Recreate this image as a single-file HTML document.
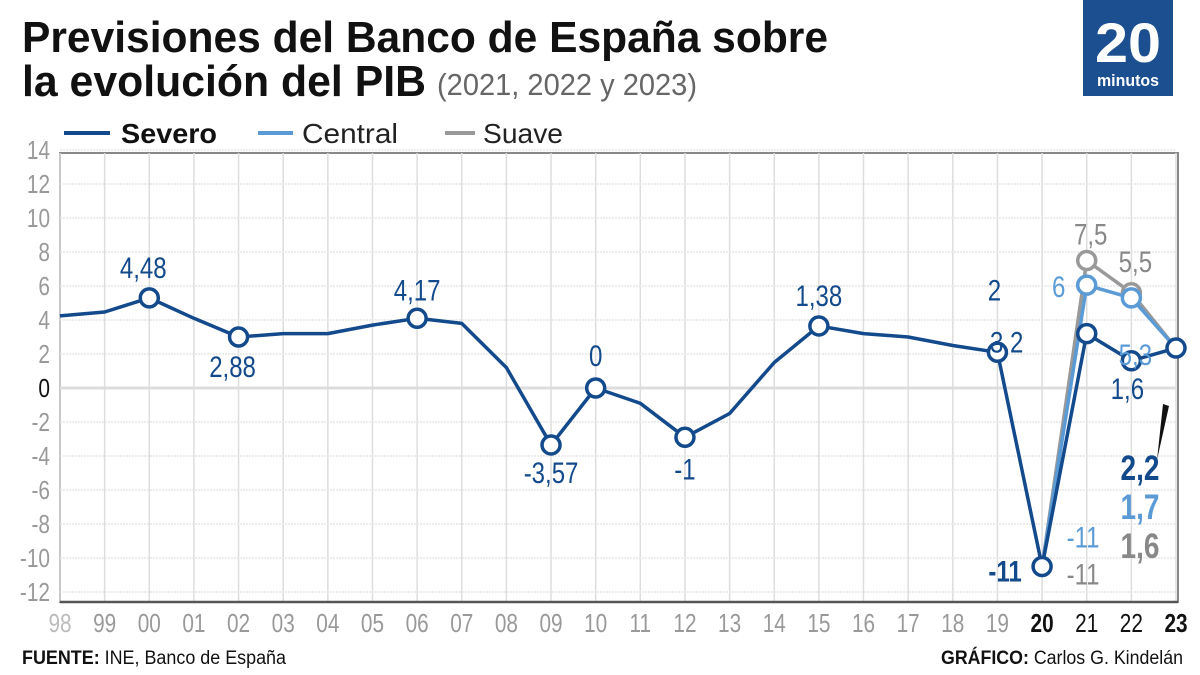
<!DOCTYPE html>
<html><head><meta charset="utf-8"><style>
body{margin:0;background:#fff;}
svg{display:block;font-family:"Liberation Sans Narrow","Liberation Sans",sans-serif;}
</style></head><body>
<svg id="c" width="1200" height="675" viewBox="0 0 1200 675">
<text x="22" y="52" font-size="44" font-weight="bold" fill="#111" textLength="806" lengthAdjust="spacingAndGlyphs">Previsiones del Banco de España sobre</text>
<text x="22" y="96" font-size="44" font-weight="bold" fill="#111" textLength="404" lengthAdjust="spacingAndGlyphs">la evolución del PIB</text>
<text x="437" y="95" font-size="31" fill="#666" textLength="260" lengthAdjust="spacingAndGlyphs">(2021, 2022 y 2023)</text>
<g>
<rect x="1083" y="0" width="90" height="96" fill="#1c4f8f"/>
<text x="1128" y="62" font-size="56" font-weight="bold" fill="#fff" text-anchor="middle" textLength="66" lengthAdjust="spacingAndGlyphs">20</text>
<text x="1128" y="86" font-size="17" font-weight="bold" fill="#fff" text-anchor="middle" textLength="62" lengthAdjust="spacingAndGlyphs">minutos</text>
</g>
<g>
<g><line x1="64" y1="133" x2="110" y2="133" stroke="#134a8c" stroke-width="4"/><text x="121" y="143" font-size="28" font-weight="bold" fill="#111" textLength="96" lengthAdjust="spacingAndGlyphs">Severo</text></g>
<g><line x1="258" y1="133" x2="293" y2="133" stroke="#5b9bd5" stroke-width="4"/><text x="302" y="143" font-size="28" fill="#222" textLength="96" lengthAdjust="spacingAndGlyphs">Central</text></g>
<g><line x1="445" y1="133" x2="475" y2="133" stroke="#999" stroke-width="4"/><text x="483" y="143" font-size="28" fill="#222" textLength="80" lengthAdjust="spacingAndGlyphs">Suave</text></g>
</g>
<g id="grid"></g><g id="axes"></g><g id="series"></g><g id="labels"></g>
<text x="22" y="664" font-size="19" fill="#111" textLength="264" lengthAdjust="spacingAndGlyphs"><tspan font-weight="bold">FUENTE:</tspan> INE, Banco de España</text>
<text x="1183" y="664" font-size="19" fill="#111" text-anchor="end" textLength="242" lengthAdjust="spacingAndGlyphs"><tspan font-weight="bold">GRÁFICO:</tspan> Carlos G. Kindelán</text>
</svg>
<script>
const years=["98","99","00","01","02","03","04","05","06","07","08","09","10","11","12","13","14","15","16","17","18","19","20","21","22","23"];
const severo=[4.24,4.47,5.3,4.1,3.0,3.2,3.2,3.7,4.1,3.8,1.2,-3.35,0,-0.9,-2.9,-1.5,1.5,3.65,3.2,3.0,2.5,2.1,-10.5,3.2,1.6,2.35];
const centralYears=["20","21","22","23"];
const central=[-10.5,6.05,5.3,2.35];
const suave=[-10.5,7.5,5.6,2.35];
const yTicks=[14,12,10,8,6,4,2,0,-2,-4,-6,-8,-10,-12];
const severoMarkers=["00","02","06","09","10","12","15","19","20","21","22","23"];
const severoLabels=["4,48","2,88","4,17","-3,57","0","-1","1,38","2","-11","3,2","1,6",""];
const centralLabels=["-11","6","5,3",""];
const suaveLabels=["-11","7,5","5,5",""];
const NS="http://www.w3.org/2000/svg";
const X0=60,X1=1176,Y0=388,PX=17,TOP=153,BOT=602;
const x=c=>X0+years.indexOf(c)*(X1-X0)/(years.length-1);
const y=v=>Y0-v*PX;
function mk(p,t,a){const e=document.createElementNS(NS,t);for(const k in a)e.setAttribute(k,a[k]);p.appendChild(e);return e;}
function narrow(t){const w=t.getComputedTextLength();if(w>0){t.setAttribute('textLength',(w*0.8).toFixed(1));t.setAttribute('lengthAdjust','spacingAndGlyphs');}}
const grid=document.getElementById('grid'),axes=document.getElementById('axes'),ser=document.getElementById('series'),lab=document.getElementById('labels');
mk(grid,'rect',{x:X0,y:TOP,width:X1-X0+2,height:BOT-TOP,fill:'#fff',stroke:'#888','stroke-width':2});
years.forEach(c=>{const l=mk(grid,'line',{x1:x(c),x2:x(c),y1:TOP,y2:BOT,stroke:'#ddd','stroke-width':1.5});


const bold=(c==="20"||c==="23");const col=c==="98"?"#bbb":(c==="20"||c==="21"||c==="22"||c==="23")?"#111":"#999";
const t=mk(axes,'text',{x:x(c),y:632,'font-size':26,'text-anchor':'middle',fill:col,'font-weight':bold?'bold':'normal'});t.textContent=c;narrow(t);

});
yTicks.forEach(v=>{const l=mk(grid,'line',{x1:X0,x2:X1,y1:y(v),y2:y(v),stroke:v===0?'#ddd':'#e6e6e6','stroke-width':v===0?3:1.5,'stroke-dasharray':v===0?'':'2 1'});


const t=mk(axes,'text',{x:50,y:y(v)+9,'font-size':26,'text-anchor':'end',fill:v===0?'#111':'#999'});t.textContent=String(v);narrow(t);

});
mk(axes,'line',{x1:X0,x2:X1+2,y1:BOT,y2:BOT,stroke:'#555','stroke-width':2.5});
function line(cats,vals,col,name){const p=mk(ser,'polyline',{points:cats.map((c,i)=>x(c)+','+y(vals[i])).join(' '),fill:'none',stroke:col,'stroke-width':3.5,'stroke-linejoin':'round'});

}
function dots(cats,vals,col,name){cats.forEach((c,i)=>{const d=mk(ser,'circle',{cx:x(c),cy:y(vals[i]),r:9,fill:'#fff',stroke:col,'stroke-width':3.5});

});}
line(centralYears,suave,'#999','suave-line');
line(centralYears,central,'#5b9bd5','central-line');
line(years,severo,'#134a8c','severo-line');
dots(["21","22"],[suave[1],suave[2]],'#999','suave-point');
dots(["21","22"],[central[1],central[2]],'#5b9bd5','central-point');
dots(severoMarkers,severoMarkers.map(c=>severo[years.indexOf(c)]),'#134a8c','severo-point');
const sOff=[[-6,-20],[-6,40],[0,-18],[0,38],[0,-22],[0,42],[0,-20],[-3,-52],[-37,15],[-80,19],[-4,38],[0,0]];
severoMarkers.forEach((c,i)=>{if(!severoLabels[i])return;const v=severo[years.indexOf(c)];
const t=mk(lab,'text',{x:x(c)+sOff[i][0],y:y(v)+sOff[i][1],'font-size':30,'text-anchor':'middle',fill:'#134a8c','font-weight':c==="20"?'bold':'normal'});t.textContent=severoLabels[i];narrow(t);

});
const cOff=[[41,-19],[-28,12],[4,67]],gOff=[[41,18],[4,-16],[4,-21]];
[[centralLabels,central,cOff,'#5b9bd5','central-value-label'],[suaveLabels,suave,gOff,'#888','suave-value-label']].forEach(([L,V,O,col,nm])=>{
L.forEach((s,i)=>{if(!s)return;const t=mk(lab,'text',{x:x(centralYears[i])+O[i][0],y:y(V[i])+O[i][1],'font-size':30,'text-anchor':'middle',fill:col});t.textContent=s;narrow(t);

});});
mk(lab,'polygon',{points:'1157,460 1163,404 1169,406',fill:'#111'});
const fin=[[severo[25],'#134a8c',480],[central[3],'#5b9bd5',519],[suave[3],'#888',558]];
const finTxt=["2,2","1,7","1,6"];
fin.forEach((f,i)=>{const t=mk(lab,'text',{x:1140,y:f[2],'font-size':35,'font-weight':'bold','text-anchor':'middle',fill:f[1]});t.textContent=finTxt[i];narrow(t);

});
</script>
</body></html>
